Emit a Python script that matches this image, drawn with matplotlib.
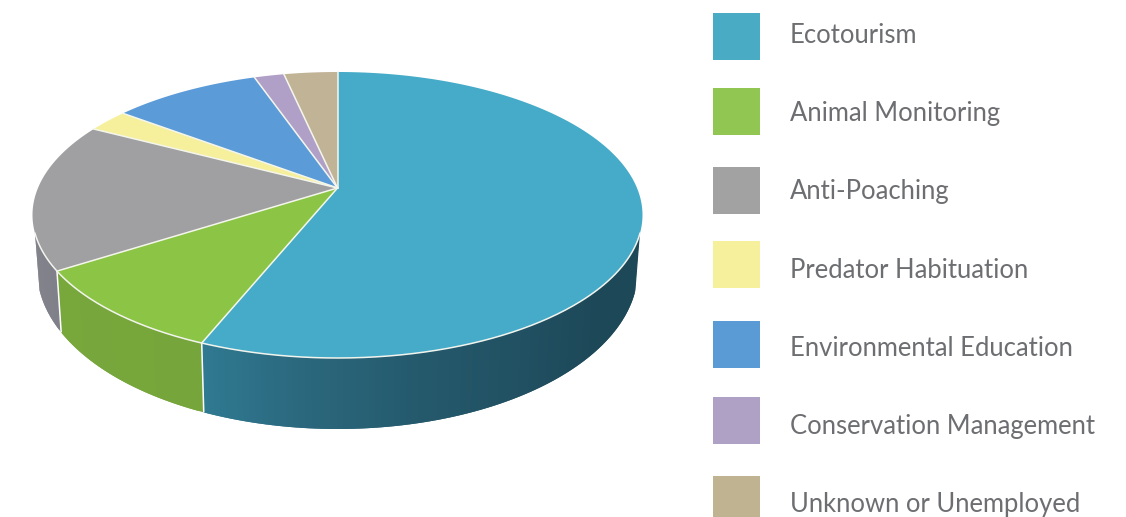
import matplotlib
matplotlib.use("Agg")
import matplotlib.pyplot as plt
from matplotlib.colors import to_rgb
from matplotlib.patches import Polygon, Rectangle
import numpy as np

# share of each activity in percent, clockwise from 12 o'clock
labels = ["Ecotourism", "Animal Monitoring", "Anti-Poaching", "Predator Habituation",
          "Environmental Education", "Conservation Management", "Unknown or Unemployed"]
values = [56.1, 9.8, 16.8, 2.6, 9.4, 1.9, 3.4]

top_colors = ["#45abc8", "#8cc545", "#a09fa1", "#f6f09c", "#5b9bd8", "#b0a0c8", "#c1b496"]
legend_colors = ["#4aabc5", "#92c653", "#a2a2a2", "#f6f09c", "#5b9bd5", "#afa0c6", "#c0b392"]
legend_tops = [13, 88, 167, 241, 321, 397, 476]
legend_baselines = [43, 121, 199, 277.5, 356, 434, 512]

# wall shade per theta (deg)
wall_stops = {
    0: [(60, "#1c4757"), (130, "#1d4858"), (165, "#24586b"), (185, "#2b687d"), (202, "#2f7a92")],
    1: [(202, "#76a63b"), (237, "#78a83c")],
    2: [(237, "#80808a"), (290, "#8a8a90")],
}
WALL_FROM, WALL_TO = 108, 252

# pie geometry in pixels, a tilted disc seen in perspective
APEX_X, APEX_Y = 337.5, 188.0
A, B, K = 299.5, 137.9, 0.1888
WALL_SCALE = 0.985


def rim(theta):
    x, y = np.sin(theta), np.cos(theta)
    return APEX_X + A * x / (1 + K * y), APEX_Y - B * y / (1 + K * y)


def floor(px, py):
    return APEX_X + WALL_SCALE * (px - APEX_X), py + 55 + (py - 215) * 16 / 143


def wall_color(i, deg):
    stops = wall_stops[i]
    pos = [s[0] for s in stops]
    rgb = np.array([to_rgb(s[1]) for s in stops])
    return [np.interp(deg, pos, rgb[:, c]) for c in range(3)]


fig, ax = plt.subplots(figsize=(11.26, 5.17), dpi=100)
fig.subplots_adjust(0, 0, 1, 1)
ax.set_xlim(0, 1126)
ax.set_ylim(517, 0)
ax.axis("off")

edges = np.concatenate([[0], np.cumsum(values)]) / sum(values) * 360

# side wall, only the front facing part shows
for i in wall_stops:
    lo, hi = max(edges[i], WALL_FROM), min(edges[i + 1], WALL_TO)
    steps = np.arange(lo, hi, 1.0)
    for d0 in steps:
        # each strip runs under the next one so no seams show
        d1 = min(d0 + 2.0, hi)
        t = np.radians(np.linspace(d0, d1, 5))
        x0, y0 = rim(t)
        x1, y1 = floor(x0, y0)
        pts = list(zip(x0, y0)) + list(zip(x1[::-1], y1[::-1]))
        c = wall_color(i, d0)
        ax.add_patch(Polygon(pts, facecolor=c, edgecolor="none", zorder=1))

# white seams on the wall
for d in edges[1:3]:
    x0, y0 = rim(np.radians(d))
    x1, y1 = floor(x0, y0)
    ax.plot([x0, x1], [y0, y1], color="white", lw=1.1, zorder=2, solid_capstyle="butt")

# top face
for i, col in enumerate(top_colors):
    t = np.radians(np.linspace(edges[i], edges[i + 1], 200))
    x, y = rim(t)
    pts = [(APEX_X, APEX_Y)] + list(zip(x, y))
    ax.add_patch(Polygon(pts, closed=True, facecolor=col, edgecolor="none", zorder=3))
    ax.plot([APEX_X, x[0]], [APEX_Y, y[0]], color="#f4f6ec", lw=1.1, zorder=4)

# light line along the front of the rim
t = np.radians(np.linspace(WALL_FROM, WALL_TO, 300))
x, y = rim(t)
ax.plot(x, y, color="#f2f4ee", lw=1.1, zorder=4)

# legend
for label, col, top, base in zip(labels, legend_colors, legend_tops, legend_baselines):
    ax.add_patch(Rectangle((713, top), 47, 47, facecolor=col, edgecolor="none"))
    ax.text(790, base, label, fontsize=18.45, color="#6d6e71", family="Lato",
            va="baseline", ha="left")

fig.savefig("out.png", dpi=100)
plt.close(fig)
